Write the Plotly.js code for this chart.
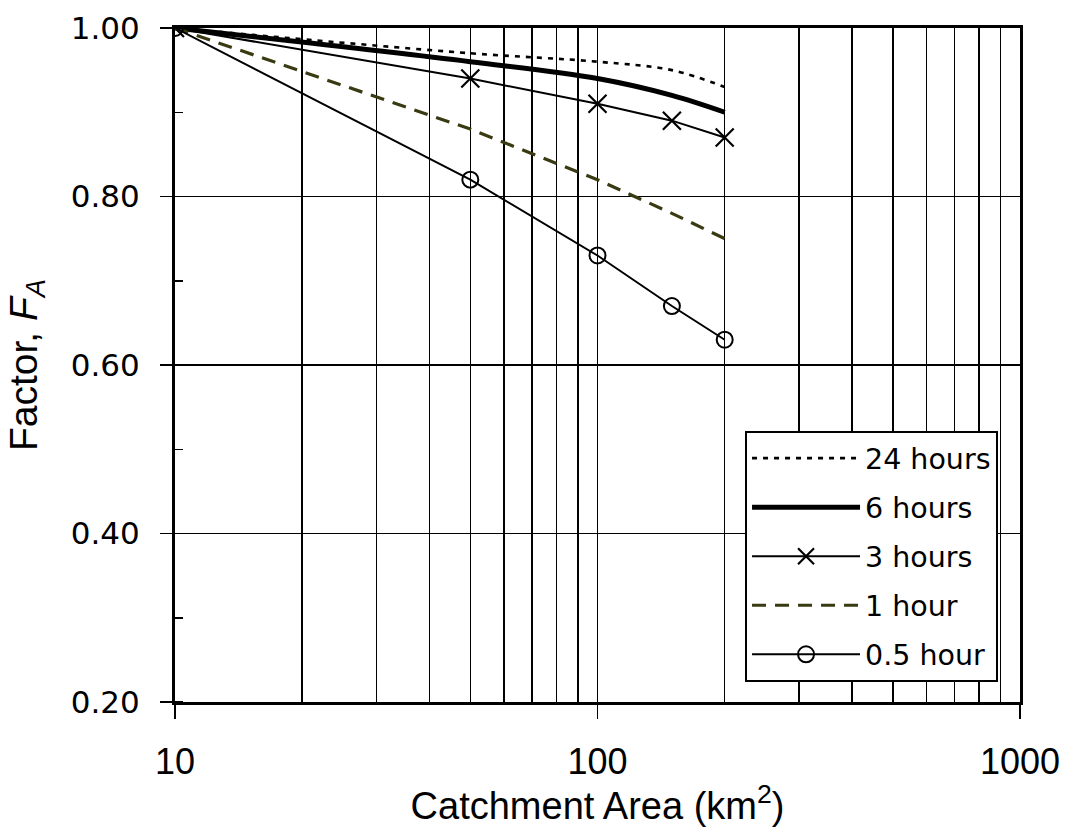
<!DOCTYPE html>
<html>
<head>
<meta charset="utf-8">
<script src="https://cdn.plot.ly/plotly-3.0.1.min.js"></script>
<style>html,body{margin:0;padding:0;background:#fff;}#chart{width:1068px;height:827px;}</style>
</head>
<body>
<div id="chart"></div>
<script>
const area = [10, 50, 100, 150, 200];
const seriesNames = ["24 hours", "6 hours", "3 hours", "1 hour", "0.5 hour"];
const fa24h = [1.00, 0.97, 0.96, 0.95, 0.93];
const fa6h  = [1.00, 0.96, 0.94, 0.92, 0.90];
const fa3h  = [1.00, 0.94, 0.91, 0.89, 0.87];
const fa1h  = [1.00, 0.88, 0.82, 0.78, 0.75];
const fa05h = [1.00, 0.82, 0.73, 0.67, 0.63];
const xTickVals = [10, 100, 1000];
const xTickText = ["10", "100", "1000"];
const xGridVals = [20, 30, 40, 50, 60, 70, 80, 90, 200, 300, 400, 500, 600, 700, 800, 900];
const yTickVals = [0.2, 0.4, 0.6, 0.8, 1.0];

const traces = [
  {x: area, y: fa24h, name: seriesNames[0], mode: "lines", legendgroup: "a",
   line: {color: "#000", width: 2.6, dash: "5px,6px", shape: "spline"}},
  {x: area, y: fa6h, name: seriesNames[1], mode: "lines", legendgroup: "b",
   line: {color: "#000", width: 5, shape: "spline"}},
  {x: area, y: fa3h, name: seriesNames[2], mode: "lines+markers", legendgroup: "c",
   line: {color: "#000", width: 2},
   marker: {symbol: "x-thin-open", size: 18, color: "#000", line: {color: "#000", width: 2.2}}},
  {x: area, y: fa1h, name: seriesNames[3], mode: "lines", legendgroup: "d",
   line: {color: "#3a3a12", width: 3.2, dash: "14px,9px"}},
  {x: area, y: fa05h, name: seriesNames[4], mode: "lines+markers", legendgroup: "e",
   line: {color: "#000", width: 2},
   marker: {symbol: "circle-open", size: 16, color: "#000", line: {color: "#000", width: 2}}}
];

const narrow = "Liberation Sans, Arial, sans-serif";

const layout = {
  width: 1068, height: 827,
  margin: {l: 175, r: 48, t: 28, b: 125},
  paper_bgcolor: "#fff", plot_bgcolor: "#fff",
  showlegend: true,
  xaxis: {
    type: "log", range: [1, 3],
    tickmode: "array", tickvals: xTickVals, ticktext: xTickText,
    ticks: "outside", ticklen: 14, tickwidth: 1.5, tickcolor: "#000",
    ticklabelstandoff: 12,
    showgrid: true, gridcolor: "#000", gridwidth: 1.5,
    showline: true, linecolor: "#000", linewidth: 3, mirror: true,
    zeroline: false,
    tickfont: {family: narrow, size: 36, color: "#000"},
    minor: {tickmode: "array", tickvals: xGridVals, showgrid: true, gridcolor: "#000", gridwidth: 1.5, ticks: ""},
    title: {text: "Catchment Area (km<sup>2</sup>)", standoff: 4,
            font: {family: narrow, size: 38, color: "#000"}}
  },
  yaxis: {
    range: [0.2, 1.0],
    tickmode: "array", tickvals: yTickVals, tickformat: ".2f",
    ticks: "outside", ticklen: 12, tickwidth: 1.5, tickcolor: "#000",
    ticklabelstandoff: 14,
    showgrid: true, gridcolor: "#000", gridwidth: 1.5,
    showline: true, linecolor: "#000", linewidth: 3, mirror: true,
    zeroline: false,
    tickfont: {family: "DejaVu Sans, Verdana, sans-serif", size: 31, color: "#000"},
    minor: {dtick: 0.1, ticks: "inside", ticklen: 8, tickwidth: 1.5, tickcolor: "#000", showgrid: false},
    title: {text: "Factor, <i>F</i><sub><i>A</i></sub>", standoff: 22,
            font: {family: narrow, size: 39, color: "#000"}}
  },
  legend: {
    x: 0.6746, y: 0.402, xanchor: "left", yanchor: "top",
    bgcolor: "#fff", bordercolor: "#000", borderwidth: 2,
    font: {family: "DejaVu Sans, Tahoma, sans-serif", size: 28.5, color: "#000"},
    itemwidth: 108, traceorder: "grouped", tracegroupgap: 9
  }
};

Plotly.newPlot("chart", traces, layout, {displayModeBar: false, staticPlot: true});
</script>
</body>
</html>
